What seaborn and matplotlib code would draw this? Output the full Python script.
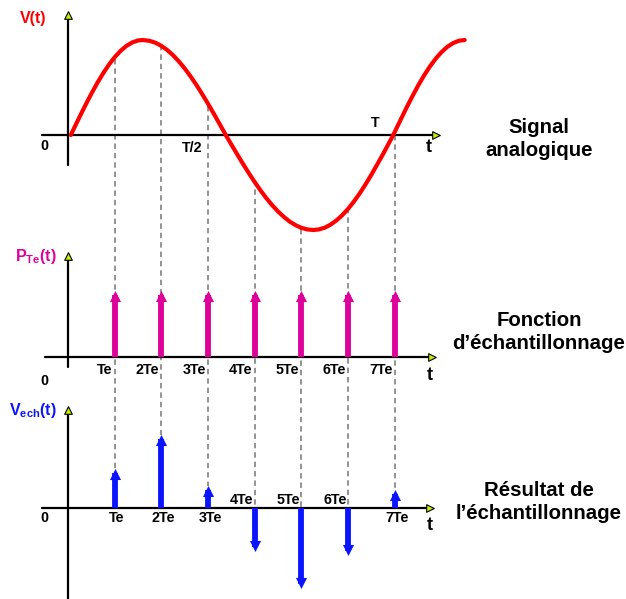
import numpy as np
import matplotlib.pyplot as plt
import seaborn as sns

sns.set_theme(style="white")
plt.rcParams["font.family"] = ["Liberation Sans", "DejaVu Sans"]
plt.rcParams["mathtext.fontset"] = "custom"
plt.rcParams["mathtext.rm"] = "Liberation Sans"
plt.rcParams["mathtext.bf"] = "Liberation Sans:bold"

# analog signal V(t) (t in units of Te, V relative to the peak)
curve_t = [0.06, 0.125, 0.25, 0.375, 0.5, 0.625, 0.75, 0.875, 1.0, 1.125, 1.25, 1.375, 1.5, 1.6,
           1.75, 1.875, 2.0, 2.125, 2.25, 2.375, 2.5, 2.625, 2.75, 2.875, 3.0, 3.125, 3.25, 3.38,
           3.5, 3.625, 3.75, 3.875, 4.0, 4.125, 4.25, 4.375, 4.5, 4.625, 4.75, 4.875, 5.0, 5.125, 5.26,
           5.375, 5.5, 5.625, 5.75, 5.875, 6.0, 6.125, 6.25, 6.375, 6.5, 6.625, 6.75, 6.875, 6.97,
           7.0, 7.125, 7.25, 7.375, 7.5, 7.625, 7.75, 7.875, 8.0, 8.125, 8.25, 8.375, 8.5]
curve_v = [0.0, 0.066, 0.193, 0.316, 0.434, 0.545, 0.647, 0.739, 0.819, 0.885, 0.937, 0.974, 0.995, 1.0,
           0.991, 0.971, 0.938, 0.895, 0.840, 0.775, 0.701, 0.618, 0.528, 0.431, 0.329, 0.223, 0.115, 0.0,
           -0.100, -0.203, -0.304, -0.402, -0.495, -0.583, -0.665, -0.739, -0.805, -0.862, -0.911, -0.949,
           -0.977, -0.994, -1.0,
           -0.994, -0.976, -0.944, -0.900, -0.845, -0.778, -0.701, -0.615, -0.520, -0.418, -0.311, -0.201,
           -0.087, 0.0,
           0.031, 0.158, 0.284, 0.404, 0.518, 0.623, 0.718, 0.801, 0.871, 0.927, 0.967, 0.992, 1.0]

# sampling instants
sample_t = [1, 2, 3, 4, 5, 6, 7]
sample_labels = ["Te", "2Te", "3Te", "4Te", "5Te", "6Te", "7Te"]
# V(t) where the dashed lines meet the curve
curve_at_samples = [0.80, 0.95, 0.31, -0.47, -0.99, -0.77, 0.0]
# sampling comb P_Te(t)
pulse_h = [1, 1, 1, 1, 1, 1, 1]
# sampled result V_ech(t)
vech = [0.49, 0.91, 0.28, -0.54, -1.0, -0.59, 0.23]

RED = "#ff0000"
MAG = "#dd0099"
BLUE = "#0a14ff"
GRAY = "#8a8a8a"
ARROW = "#ccee00"

# layout in image pixels
X0, TE = 68, 46.67
def px(x):
    return (x - X0) / TE

base_top, base_mid, base_bot = 135, 357, 508
sc_top, sc_mid, sc_bot = 95, 66, 80

fig = plt.figure(figsize=(6.26, 5.99), dpi=100)
ax = fig.add_axes([0, 0, 1, 1])
ax.set_xlim(px(0), px(626))
ax.set_ylim(599, 0)
ax.axis("off")

st = np.array(sample_t)
top_y = base_top - np.array(curve_at_samples) * sc_top
vb = np.array(vech)
bot_tip = base_bot - vb * sc_bot
bot_end = np.where(vb > 0, bot_tip, base_bot)

# dashed projection lines
ax.vlines(st, top_y, bot_end, colors=GRAY, linestyles=(0, (3, 2.2)), lw=1.3, zorder=1)

# axes with arrows
def draw_axes(base, x_left, x_right, y_top, y_bottom):
    ax.plot([px(x_left), px(x_right)], [base, base], color="black", lw=1.6, zorder=2)
    ax.plot([0, 0], [y_top, y_bottom], color="black", lw=1.6, zorder=2)
    ax.scatter([px(x_right)], [base], marker=">", s=30, color=ARROW,
               edgecolors="black", linewidths=0.8, zorder=6)
    ax.scatter([0], [y_top], marker="^", s=30, color=ARROW,
               edgecolors="black", linewidths=0.8, zorder=6)

draw_axes(base_top, 42, 436, 15, 165)
draw_axes(base_mid, 45, 432, 256, 367)
draw_axes(base_bot, 42, 430, 410, 599)

# analog signal
sns.lineplot(x=curve_t, y=base_top - np.array(curve_v) * sc_top, color=RED, lw=3.0,
             ax=ax, zorder=4, solid_joinstyle="round", solid_capstyle="round")

# sampling comb
mid_tip = base_mid - np.array(pulse_h) * sc_mid
ax.vlines(st, base_mid, mid_tip + 4, colors=MAG, lw=4.2, zorder=3)
ax.scatter(st, mid_tip + 5, marker="^", s=64, color=MAG, linewidths=0, zorder=5)

# sampled signal
ax.vlines(st, base_bot, bot_tip + np.sign(vb) * 4, colors=BLUE, lw=4.2, zorder=3)
pos = vb > 0
ax.scatter(st[pos], bot_tip[pos] + 5, marker="^", s=64, color=BLUE, linewidths=0, zorder=5)
ax.scatter(st[~pos], bot_tip[~pos] - 5, marker="v", s=64, color=BLUE, linewidths=0, zorder=5)

fs = 10.3
bold = dict(fontweight="bold", color="black")

# top panel texts
ax.text(px(33), 18, "V(t)", color=RED, fontsize=11.5, fontweight="bold", ha="center", va="center")
ax.text(px(44), 146, "0", fontsize=fs, ha="center", va="center", **bold)
ax.text(px(192), 148, "T/2", fontsize=fs, ha="center", va="center", **bold)
ax.text(px(375), 123, "T", fontsize=fs, ha="center", va="center", **bold)
ax.text(px(429), 148, "t", fontsize=13, ha="center", va="center", **bold)

# middle panel texts
ax.text(px(36), 256, r"$\mathbf{P}_{\mathbf{Te}}\mathbf{(t)}$", color=MAG, fontsize=11.5,
        ha="center", va="center")
ax.text(px(44), 381, "0", fontsize=fs, ha="center", va="center", **bold)
for t, lab in zip(sample_t, sample_labels):
    ax.text(t - 0.05, 370, lab, fontsize=fs, ha="right", va="center", **bold)
ax.text(px(430), 376, "t", fontsize=13, ha="center", va="center", **bold)

# bottom panel texts
ax.text(px(33), 411, r"$\mathbf{V}_{\mathbf{ech}}\mathbf{(t)}$", color=BLUE, fontsize=11.5,
        ha="center", va="center")
ax.text(px(44), 518, "0", fontsize=fs, ha="center", va="center", **bold)
for t, lab, v in zip(sample_t, sample_labels, vech):
    if v > 0:
        ax.text(t + 0.05, 518, lab, fontsize=fs, ha="center", va="center", **bold)
    else:
        ax.text(t - 0.02, 500, lab, fontsize=fs, ha="right", va="center", **bold)
ax.text(px(430), 526, "t", fontsize=13, ha="center", va="center", **bold)

# right-hand titles
for y, txt in [(139, "Signal\nanalogique"), (332, "Fonction\nd\u2019\u00e9chantillonnage"),
               (502, "R\u00e9sultat de\nl\u2019\u00e9chantillonnage")]:
    ax.text(px(539), y, txt, fontsize=14.7, ha="center", va="center", linespacing=1.22, **bold)

fig.savefig("out.png", dpi=100)
